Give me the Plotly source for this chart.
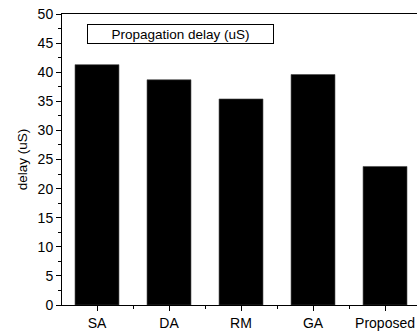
import plotly.graph_objects as go

categories = ["SA", "DA", "RM", "GA", "Proposed"]
delay_us = [41.3, 38.7, 35.4, 39.6, 23.8]
series_name = "Propagation delay (uS)"
y_title = "delay (uS)"

font_family = "Liberation Sans, Arial, sans-serif"
xs = list(range(len(categories)))

fig = go.Figure()
fig.add_trace(go.Bar(
    x=xs, y=delay_us, name=series_name,
    width=0.61,
    marker=dict(color="black", line=dict(color="#444", width=0.6)),
    showlegend=False,
))

fig.update_layout(
    width=417, height=331,
    margin=dict(l=62, r=0, t=14, b=24),
    paper_bgcolor="white", plot_bgcolor="white",
    font=dict(family=font_family, size=14, color="black"),
)
fig.update_xaxes(
    range=[-0.486, 4.444],
    tickmode="array", tickvals=xs, ticktext=categories,
    ticks="outside", ticklen=5, tickwidth=1, tickcolor="black",
    minor=dict(dtick=0.5, tick0=0.5, ticks="outside", ticklen=3, tickwidth=1, tickcolor="black"),
    showline=True, linecolor="black", linewidth=1, mirror=True,
    showgrid=False, zeroline=False,
    tickfont=dict(size=14),
)
fig.update_yaxes(
    range=[0, 50], dtick=5, tick0=0,
    ticks="outside", ticklen=5, tickwidth=1, tickcolor="black",
    minor=dict(dtick=2.5, ticks="outside", ticklen=3, tickwidth=1, tickcolor="black"),
    showline=True, linecolor="black", linewidth=1, mirror=False,
    showgrid=False, zeroline=False,
    title=dict(text=y_title, font=dict(size=13.5), standoff=6),
    tickfont=dict(size=14),
)
fig.add_annotation(
    xref="paper", yref="paper", x=(87 - 62) / 355, y=(307 - 24) / 293,
    xanchor="left", yanchor="top",
    text=series_name, showarrow=False,
    font=dict(size=13.5), align="center",
    width=183, height=16,
    bordercolor="black", borderwidth=1, borderpad=1, bgcolor="white",
)
fig.write_html(
    "out.html",
    config={"displayModeBar": False},
    post_script="document.body.style.margin='0';document.body.style.overflow='hidden';",
)
